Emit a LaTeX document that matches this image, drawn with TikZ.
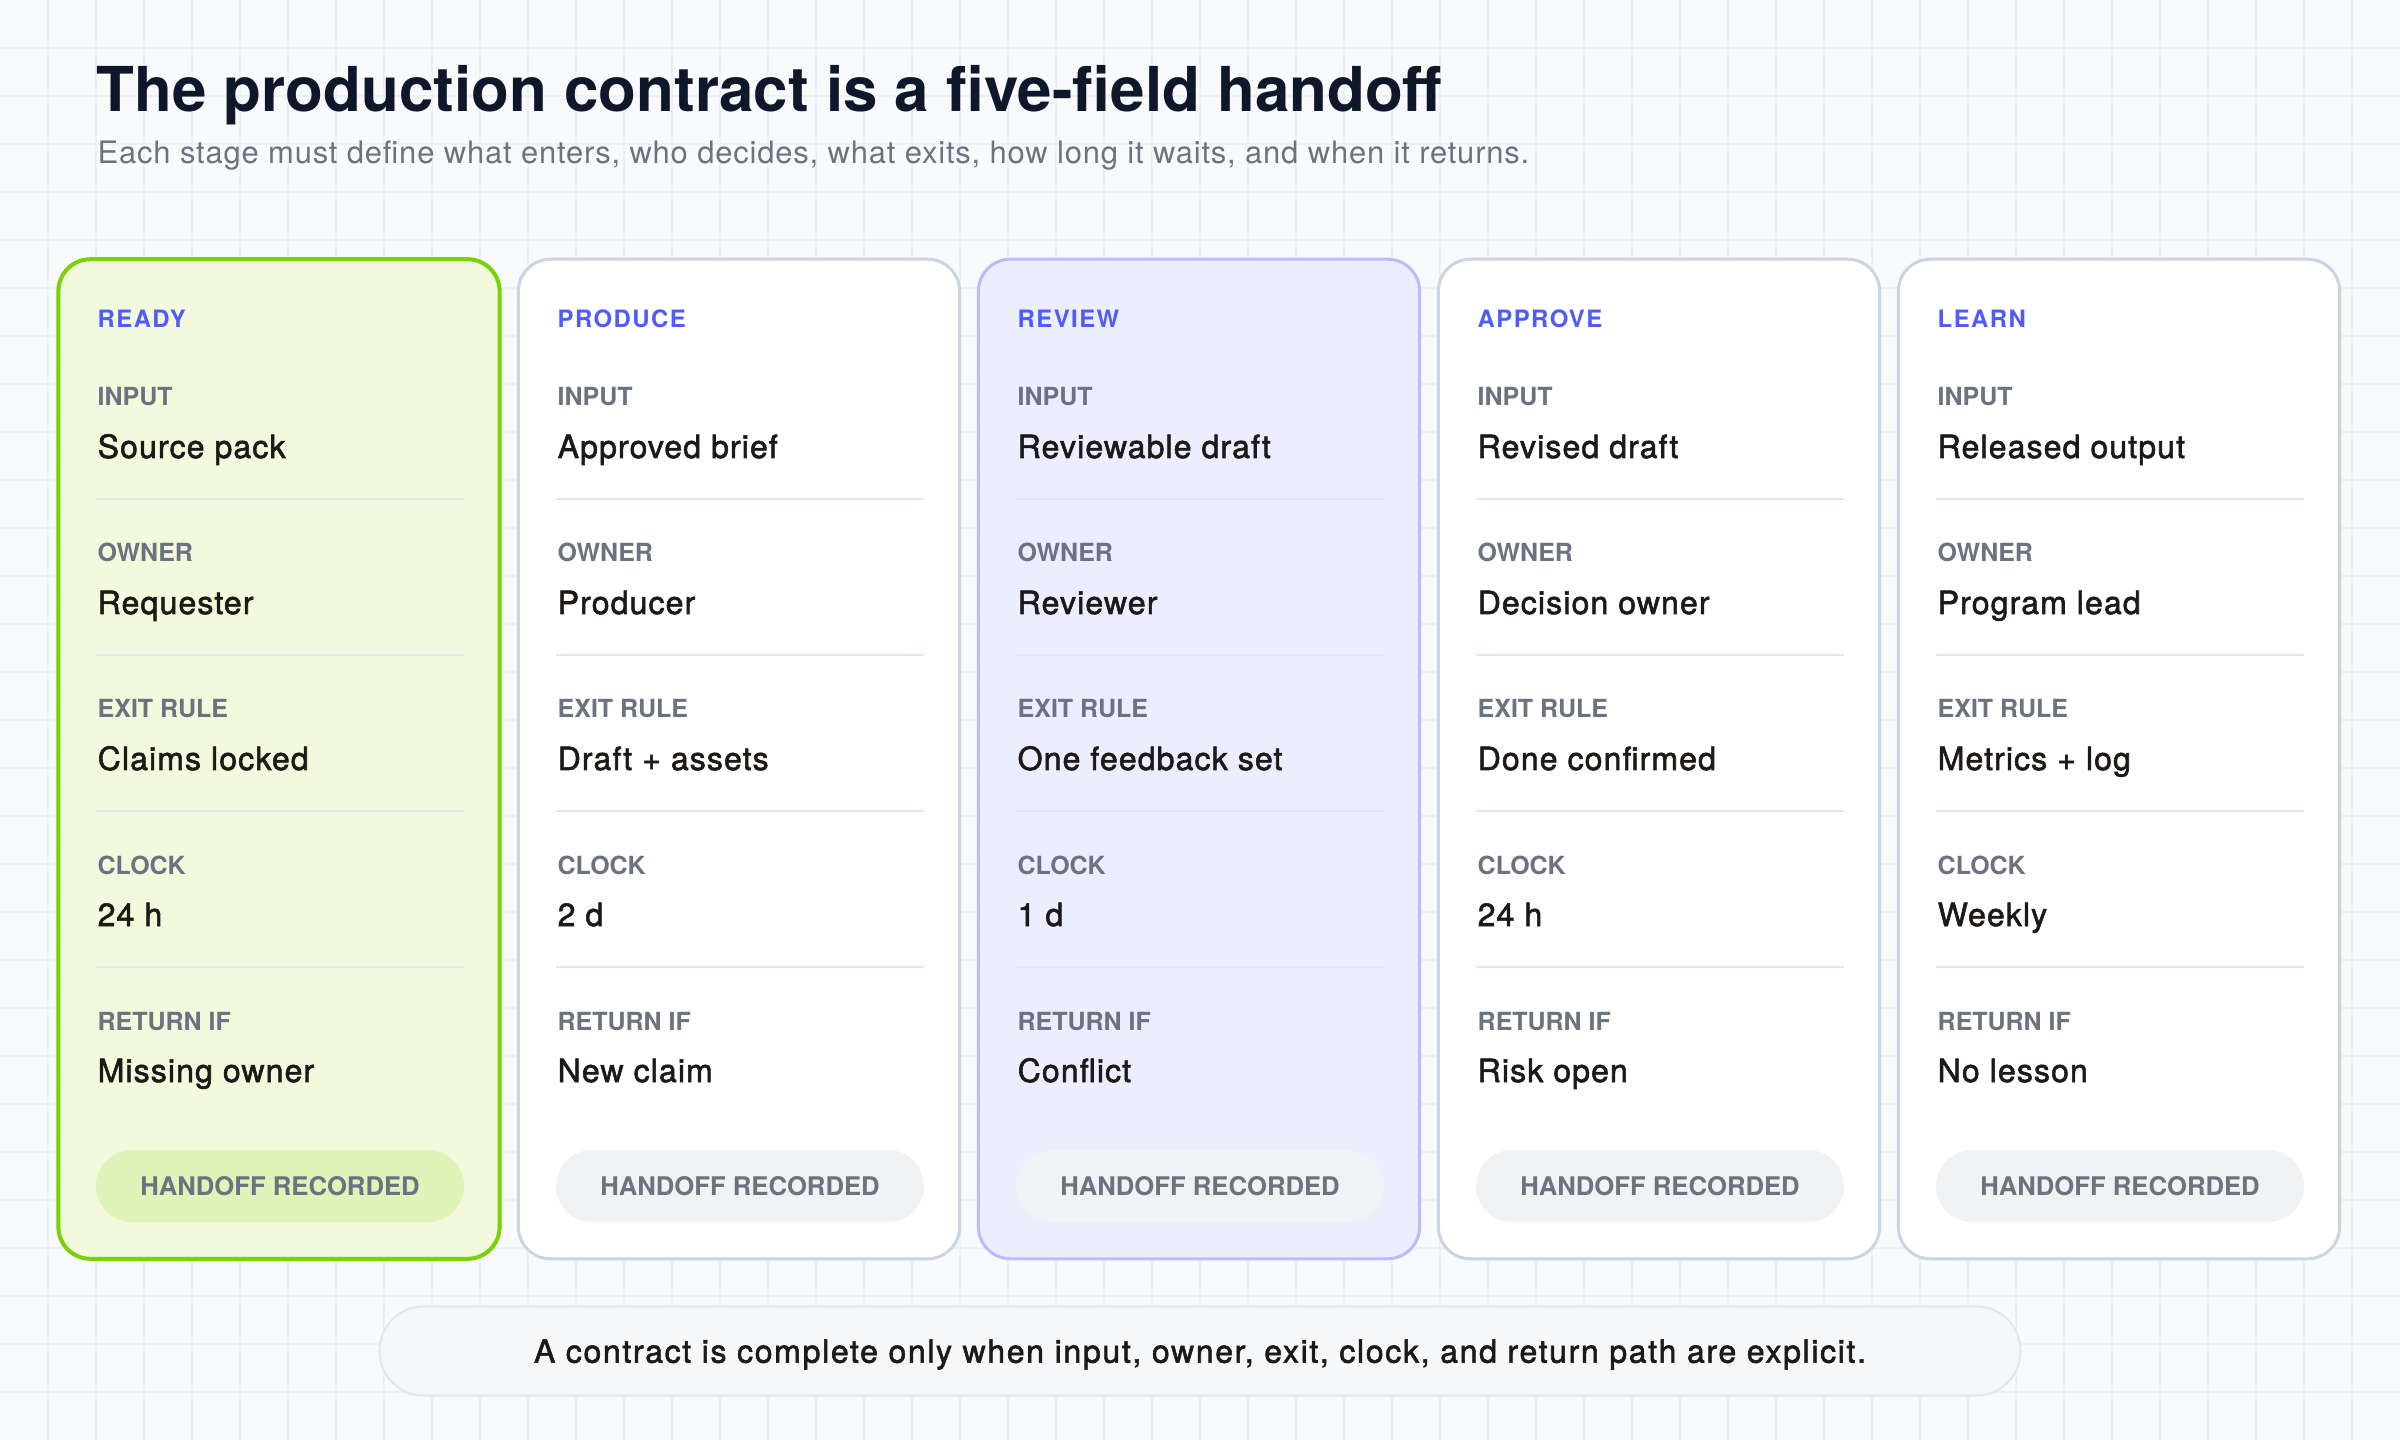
\documentclass[tikz,border=0pt]{standalone}
\usepackage{fontspec}
\setmainfont{TeX Gyre Heros}
\newfontfamily\medfont[FakeBold=1.8, LetterSpace=3.5]{TeX Gyre Heros}
\newfontfamily\notefont[FakeBold=1.8, LetterSpace=5.2]{TeX Gyre Heros}
\newfontfamily\subfont[LetterSpace=2.6]{TeX Gyre Heros}
\newfontfamily\stagefont[LetterSpace=6]{TeX Gyre Heros}

\definecolor{paper}{HTML}{F8FAFC}
\definecolor{gridc}{HTML}{EDF0F4}
\definecolor{inkdark}{HTML}{0F172A}
\definecolor{inkval}{HTML}{1C1917}
\definecolor{labelgray}{HTML}{6B7280}
\definecolor{stageblue}{HTML}{4F5BFA}
\definecolor{plainedge}{HTML}{CBD5E1}
\definecolor{readyedge}{HTML}{78D204}
\definecolor{readyfill}{HTML}{F2F9DC}
\definecolor{readypillc}{HTML}{DFF4B9}
\definecolor{reviewedge}{HTML}{B9BCFA}
\definecolor{reviewfill}{HTML}{ECEDFE}
\definecolor{pillgray}{HTML}{F1F2F4}
\definecolor{rulec}{HTML}{E2E8F0}
\definecolor{notefill}{HTML}{F6F7F9}

\tikzset{
  gridline/.style={draw=gridc, line width=0.35pt},
  cardbox/.style={rounded corners=0.32cm, minimum width=4.41cm, minimum height=9.99cm, inner sep=0pt, line width=0.85pt},
  plaincard/.style={cardbox, draw=plainedge, fill=white},
  readycard/.style={cardbox, draw=readyedge, fill=readyfill, line width=1.14pt},
  reviewcard/.style={cardbox, draw=reviewedge, fill=reviewfill},
  pillbox/.style={rounded corners=0.36cm, minimum width=3.68cm, minimum height=0.72cm, inner sep=0pt, text=labelgray, font={\bfseries\fontsize{7.3pt}{9pt}\selectfont}},
  plainpill/.style={pillbox, fill=pillgray},
  readypill/.style={pillbox, fill=readypillc},
  stagetext/.style={anchor=base west, inner sep=0pt, text=stageblue, font={\stagefont\bfseries\fontsize{6.8pt}{8pt}\selectfont}},
  fieldlabel/.style={anchor=base west, inner sep=0pt, text=labelgray, font={\bfseries\fontsize{7.1pt}{9pt}\selectfont}},
  fieldvalue/.style={anchor=base west, inner sep=0pt, text=inkval, font={\medfont\fontsize{9.1pt}{11pt}\selectfont}},
  divider/.style={draw=rulec, line width=0.75pt},
  notebox/.style={rounded corners=0.44cm, minimum width=16.4cm, minimum height=0.89cm, inner sep=0pt, text depth=0pt, draw=rulec, fill=notefill, line width=0.6pt, text=inkval, font={\notefont\fontsize{9.1pt}{11pt}\selectfont}}
}

\begin{document}
\begin{tikzpicture}[x=0.01cm, y=-0.01cm]
  % Fondo y rejilla
  \useasboundingbox (0,0) rectangle (2400,1440);
  \fill[paper] (0,0) rectangle (2400,1440);
  \foreach \gx in {48,96,...,2399}
    \draw[gridline] (\gx,0) -- (\gx,1440);
  \foreach \gy in {48,96,...,1439}
    \draw[gridline] (0,\gy) -- (2400,\gy);

  % Titulo
  \node (title) [anchor=base west, inner sep=0pt, text=inkdark, font={\bfseries\fontsize{17.6pt}{20pt}\selectfont}] at (96,112) {The production contract is a five-field handoff};
  \node (subtitle) [anchor=base west, inner sep=0pt, text=labelgray, font={\subfont\fontsize{8.8pt}{10pt}\selectfont}] at (97,164) {Each stage must define what enters, who decides, what exits, how long it waits, and when it returns.};

  % Tarjetas
  \foreach \i/\cardsty/\pillsty/\stage/\inp/\own/\ex/\clk/\ret in {
      0/readycard/readypill/READY/Source pack/Requester/Claims locked/24 h/Missing owner,
      1/plaincard/plainpill/PRODUCE/Approved brief/Producer/Draft + assets/2 d/New claim,
      2/reviewcard/plainpill/REVIEW/Reviewable draft/Reviewer/One feedback set/1 d/Conflict,
      3/plaincard/plainpill/APPROVE/Revised draft/Decision owner/Done confirmed/24 h/Risk open,
      4/plaincard/plainpill/LEARN/Released output/Program lead/Metrics + log/Weekly/No lesson}{
    \node (card\i) [\cardsty] at ({279+460*\i},759) {};
    \node (stage\i) [stagetext] at ({97+460*\i},328) {\stage};
    \foreach \lab/\val [count=\k from 0] in {INPUT/\inp, OWNER/\own, EXIT RULE/\ex, CLOCK/\clk, RETURN IF/\ret}{
      \node (lab\i-\k) [fieldlabel] at ({97+460*\i},{406+156*\k}) {\lab};
      \node (val\i-\k) [fieldvalue] at ({97+460*\i},{458+156*\k}) {\val};
    }
    \foreach \k in {0,...,3}
      \draw[divider] ({96+460*\i},{499+156*\k}) -- ++(368,0);
    \node (pill\i) [\pillsty] at ({740+460*(\i-1)},1186) {HANDOFF RECORDED};
  }

  % Nota final
  \node (note) [notebox] at (1200,1351) {A contract is complete only when input, owner, exit, clock, and return path are explicit.};
\end{tikzpicture}
\end{document}
